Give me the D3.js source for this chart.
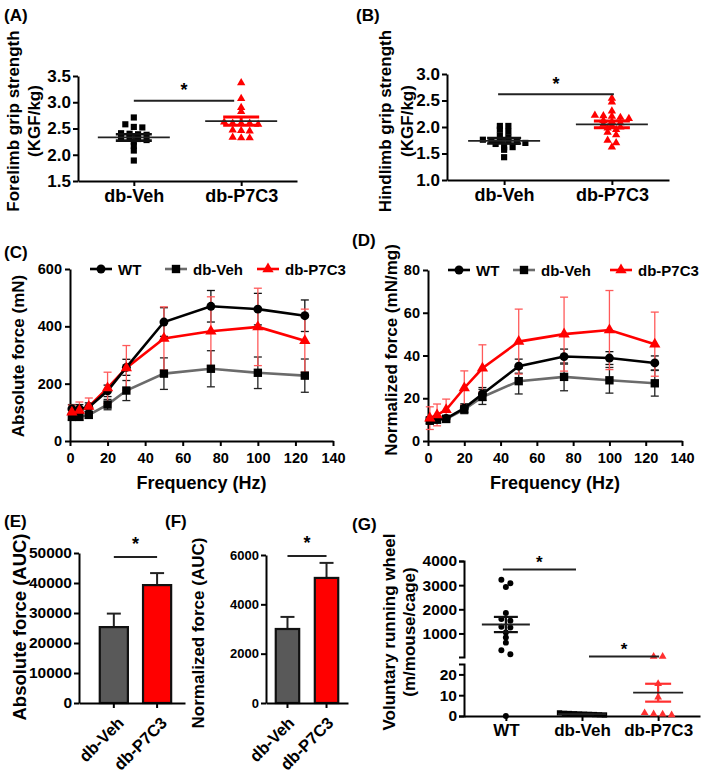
<!DOCTYPE html>
<html><head><meta charset="utf-8">
<script src="https://cdn.jsdelivr.net/npm/d3@7"></script>
<style>
body{margin:0;background:#fff}
</style></head><body>
<svg id="c" width="709" height="772" xmlns="http://www.w3.org/2000/svg"></svg>
<script>
// ---------------- DATA ----------------
const groupsAB = ["db-Veh", "db-P7C3"];
const foreVeh = [2.71,2.58,2.53,2.52,2.41,2.40,2.39,2.38,2.34,2.33,2.30,2.28,2.25,2.17,2.08,1.89];
const foreP7C3 = [3.37,3.07,2.90,2.82,2.62,2.60,2.60,2.60,2.58,2.47,2.46,2.45,2.33,2.32,2.32];
const foreMean = [2.33, 2.64];
const foreSEM = [0.06, 0.08];
const foreSig = 3.03;
const foreTicks = [1.5, 2.0, 2.5, 3.0, 3.5];

const hindVeh = [2.02,2.02,1.95,1.91,1.84,1.80,1.76,1.74,1.74,1.73,1.72,1.70,1.68,1.62,1.62,1.57,1.43];
const hindP7C3 = [2.54,2.47,2.30,2.22,2.21,2.20,2.18,2.16,2.12,2.10,2.08,2.05,2.03,2.00,1.98,1.95,1.90,1.85,1.75,1.70,1.62];
const hindMean = [1.74, 2.05];
const hindSEM = [0.05, 0.065];
const hindSig = 2.62;
const hindTicks = [1.0, 1.5, 2.0, 2.5, 3.0];

const seriesNames = ["WT", "db-Veh", "db-P7C3"];
const freqs = [1, 5, 10, 20, 30, 50, 75, 100, 125];
const freqTicks = [0, 20, 40, 60, 80, 100, 120, 140];
const absWT = [112, 112, 118, 175, 257, 415, 470, 460, 437];
const absWTErr = [15, 15, 15, 20, 28, 50, 55, 55, 55];
const absVeh = [84, 84, 91, 127, 176, 235, 252, 238, 228];
const absVehErr = [12, 12, 12, 18, 35, 55, 63, 55, 58];
const absP7C3 = [100, 106, 120, 185, 255, 358, 383, 398, 350];
const absP7C3Err = [25, 30, 30, 55, 78, 110, 120, 135, 110];
const absTicks = [0, 200, 400, 600];

const normWT = [9.8, 10.2, 10.5, 15.4, 22, 35, 39.5, 38.8, 36.5];
const normWTErr = [1.5, 1.5, 1.5, 2, 3, 3.3, 3.5, 3, 3.3];
const normVeh = [9.5, 10, 10.3, 14.8, 20.6, 28, 30, 28.4, 27];
const normVehErr = [1.5, 1.5, 1.5, 2, 3.5, 6, 6.5, 6, 6];
const normP7C3 = [10.7, 12.2, 14.6, 24.8, 34, 46.5, 50, 51.9, 45.3];
const normP7C3Err = [5.3, 5.1, 5, 8, 11, 15.2, 17.3, 18.5, 15];
const normTicks = [0, 20, 40, 60, 80];

const aucGroups = ["db-Veh", "db-P7C3"];
const absAUC = [25300, 39300];
const absAUCErr = [4500, 4000];
const absAUCSig = 48700;
const absAUCTicks = [0, 10000, 20000, 30000, 40000, 50000];
const normAUC = [3000, 5070];
const normAUCErr = [490, 610];
const normAUCSig = 5960;
const normAUCTicks = [0, 2000, 4000, 6000];

const wheelGroups = ["WT", "db-Veh", "db-P7C3"];
const wheelWT = [3220, 3080, 2920, 1850, 1600, 1530, 1280, 1250, 1040, 830, 620, 300, 140, 0];
const wheelVeh = [1.2, 0.9, 0.6, 1.1, 1.5, 0.5, 0.8, 1.3, 0.7, 1.0];
const wheelP7C3 = [45, 45, 15.5, 9, 1.5, 1.0, 0.8, 0.5];
const wheelMean = [1370, 0.9, 11.2];
const wheelSEM = [315, 0.15, 4.3];
const wheelSig = [3650, 42];
const wheelUpperTicks = [1000, 2000, 3000, 4000];
const wheelLowerTicks = [0, 10, 20];

// ---------------- HELPERS ----------------
const FONT = '"Liberation Sans", Arial, Helvetica, sans-serif';
const svg = d3.select("#c");
const RED = "#ff0000";
const intFmt = d3.format("d");

function styleAxis(g, fs) {
  g.attr("font-size", fs).attr("font-family", FONT).attr("font-weight", "bold");
  g.selectAll(".domain").attr("stroke", "#000").attr("stroke-width", 2);
  g.selectAll(".tick line").attr("stroke", "#000").attr("stroke-width", 2);
  g.selectAll(".tick text").attr("fill", "#000");
  return g;
}
function label(x, y, str, fs, anchor = "middle", rot = 0) {
  return svg.append("text")
    .attr("transform", `translate(${x},${y}) rotate(${rot})`)
    .attr("text-anchor", anchor)
    .attr("font-family", FONT).attr("font-weight", "bold")
    .attr("font-size", fs).attr("fill", "#000").text(str);
}
function jitter(vals, ypx, tol, sp) {
  const idx = vals.map((v, i) => i).sort((a, b) => ypx(vals[a]) - ypx(vals[b]));
  const rows = [];
  idx.forEach(i => {
    const p = ypx(vals[i]);
    const r = rows[rows.length - 1];
    if (r && p - r.p0 <= tol) r.items.push(i); else rows.push({ p0: p, items: [i] });
  });
  const off = new Array(vals.length);
  rows.forEach(r => {
    const k = r.items.length;
    r.items.forEach((i, j) => off[i] = (j - (k - 1) / 2) * sp);
  });
  return off;
}
function dots(cx, ypx, vals, shape, size, color, tol, sp) {
  const off = jitter(vals, ypx, tol, sp);
  svg.append("g").selectAll("path").data(vals).join("path")
    .attr("transform", (d, i) => `translate(${cx + off[i]},${ypx(d)})`)
    .attr("d", d3.symbol(shape, size)())
    .attr("fill", color);
}
function meanSem(cx, ypx, mean, sem, mHalf, sHalf, semColor, semW) {
  const g = svg.append("g");
  g.append("line").attr("x1", cx).attr("x2", cx)
    .attr("y1", ypx(mean + sem)).attr("y2", ypx(mean - sem))
    .attr("stroke", semColor).attr("stroke-width", semW);
  [mean + sem, mean - sem].forEach(v => {
    g.append("line").attr("x1", cx - sHalf).attr("x2", cx + sHalf)
      .attr("y1", ypx(v)).attr("y2", ypx(v))
      .attr("stroke", semColor).attr("stroke-width", semW);
  });
  g.append("line").attr("x1", cx - mHalf).attr("x2", cx + mHalf)
    .attr("y1", ypx(mean)).attr("y2", ypx(mean))
    .attr("stroke", "#222").attr("stroke-width", 1.8);
}
function sigBar(x1, x2, yp, fs, gap) {
  svg.append("line").attr("x1", x1).attr("x2", x2).attr("y1", yp).attr("y2", yp)
    .attr("stroke", "#222").attr("stroke-width", 2);
  label((x1 + x2) / 2, yp - gap, "*", fs);
}

// ---------------- PANEL A ----------------
{
  const x = d3.scalePoint().domain(groupsAB).range([78, 297]).padding(0.52);
  const y = d3.scaleLinear().domain([1.5, 3.5]).range([181, 76]);
  styleAxis(svg.append("g").attr("transform", "translate(78,0)")
    .call(d3.axisLeft(y).tickValues(foreTicks).tickFormat(d3.format(".1f")).tickSize(5).tickPadding(2).tickSizeOuter(0)), 17);
  styleAxis(svg.append("g").attr("transform", "translate(0,181)")
    .call(d3.axisBottom(x).tickSize(5).tickPadding(3).tickSizeOuter(0)), 18);
  dots(x("db-Veh"), y, foreVeh, d3.symbolSquare, 38, "#000", 3.5, 8.5);
  dots(x("db-P7C3"), y, foreP7C3, d3.symbolTriangle, 30, RED, 3.5, 8.5);
  meanSem(x("db-Veh"), y, foreMean[0], foreSEM[0], 36, 18, "#111", 2.6);
  meanSem(x("db-P7C3"), y, foreMean[1], foreSEM[1], 36, 18, RED, 3);
  sigBar(x("db-Veh"), x("db-P7C3") - 7, y(foreSig), 18, 5);
  label(4, 21, "(A)", 17, "start");
  label(19, 121, "Forelimb grip strength", 17, "middle", -90);
  label(40, 121, "(KGF/kg)", 17, "middle", -90);
}
// ---------------- PANEL B ----------------
{
  const x = d3.scalePoint().domain(groupsAB).range([447, 669]).padding(0.53);
  const y = d3.scaleLinear().domain([1.0, 3.0]).range([180, 74]);
  styleAxis(svg.append("g").attr("transform", "translate(447,0)")
    .call(d3.axisLeft(y).tickValues(hindTicks).tickFormat(d3.format(".1f")).tickSize(5).tickPadding(2).tickSizeOuter(0)), 17);
  styleAxis(svg.append("g").attr("transform", "translate(0,180)")
    .call(d3.axisBottom(x).tickSize(5).tickPadding(3).tickSizeOuter(0)), 18);
  dots(x("db-Veh"), y, hindVeh, d3.symbolSquare, 38, "#000", 3.5, 8.5);
  dots(x("db-P7C3"), y, hindP7C3, d3.symbolTriangle, 30, RED, 3.5, 8.5);
  meanSem(x("db-Veh"), y, hindMean[0], hindSEM[0], 36, 17, "#111", 2.6);
  meanSem(x("db-P7C3"), y, hindMean[1], hindSEM[1], 36, 18, RED, 3);
  sigBar(x("db-Veh") - 6, x("db-P7C3") + 2, y(hindSig), 18, 4.5);
  label(356, 21, "(B)", 17, "start");
  label(391, 121, "Hindlimb grip strength", 17, "middle", -90);
  label(413, 121, "(KGF/kg)", 17, "middle", -90);
}
// ---------------- LINE PANELS ----------------
function linePanel(cfg) {
  const x = d3.scaleLinear().domain([0, 140]).range(cfg.xr);
  const y = d3.scaleLinear().domain(cfg.yd).range([441, cfg.yTop]);
  styleAxis(svg.append("g").attr("transform", `translate(${cfg.xr[0]},0)`)
    .call(d3.axisLeft(y).tickValues(cfg.yTicks).tickFormat(intFmt).tickSize(5).tickPadding(3).tickSizeOuter(0)), 14.5);
  styleAxis(svg.append("g").attr("transform", "translate(0,441)")
    .call(d3.axisBottom(x).tickValues(freqTicks).tickFormat(intFmt).tickSize(5).tickPadding(7).tickSizeOuter(0)), 14.5);
  const series = [
    { name: "WT", v: cfg.wt, e: cfg.wtE, line: "#000", mark: "#000", err: "#111", shape: d3.symbolCircle, size: 62 },
    { name: "db-Veh", v: cfg.veh, e: cfg.vehE, line: "#6b6b6b", mark: "#000", err: "#222", shape: d3.symbolSquare, size: 70 },
    { name: "db-P7C3", v: cfg.p7, e: cfg.p7E, line: RED, mark: RED, err: "#ff5a5a", shape: d3.symbolTriangle, size: 55 }
  ];
  const g = svg.append("g");
  series.forEach(s => {
    freqs.forEach((f, i) => {
      const cx = x(f), y1 = y(s.v[i] + s.e[i]), y2 = y(Math.max(0, s.v[i] - s.e[i]));
      g.append("line").attr("x1", cx).attr("x2", cx).attr("y1", y1).attr("y2", y2)
        .attr("stroke", s.err).attr("stroke-width", 1.3);
      [y1, y2].forEach(yy => g.append("line").attr("x1", cx - 4).attr("x2", cx + 4)
        .attr("y1", yy).attr("y2", yy).attr("stroke", s.err).attr("stroke-width", 1.3));
    });
  });
  const ln = d3.line().x((d, i) => x(freqs[i])).y(d => y(d));
  [series[2], series[1], series[0]].forEach(s => {
    g.append("path").attr("d", ln(s.v)).attr("fill", "none")
      .attr("stroke", s.line).attr("stroke-width", 2.6);
  });
  series.forEach(s => {
    g.selectAll(null).data(s.v).join("path")
      .attr("transform", (d, i) => `translate(${x(freqs[i])},${y(d)})`)
      .attr("d", d3.symbol(s.shape, s.size)()).attr("fill", s.mark);
  });
  series.forEach((s, i) => {
    const lx = cfg.legX[i], ly = cfg.yTop;
    svg.append("line").attr("x1", lx).attr("x2", lx + 22).attr("y1", ly).attr("y2", ly)
      .attr("stroke", s.line).attr("stroke-width", 2.6);
    svg.append("path").attr("transform", `translate(${lx + 11},${ly})`)
      .attr("d", d3.symbol(s.shape, s.size)()).attr("fill", s.mark);
    label(lx + 28, ly + 5.5, s.name, 15, "start");
  });
  label((cfg.xr[0] + cfg.xr[1]) / 2, 489, "Frequency (Hz)", 18);
}
linePanel({ xr: [70, 333], yd: [0, 600], yTop: 269, yTicks: absTicks,
  wt: absWT, wtE: absWTErr, veh: absVeh, vehE: absVehErr, p7: absP7C3, p7E: absP7C3Err,
  legX: [90, 165, 257] });
label(4, 258, "(C)", 17, "start");
label(24, 356, "Absolute force (mN)", 17, "middle", -90);

linePanel({ xr: [428, 682], yd: [0, 80], yTop: 270, yTicks: normTicks,
  wt: normWT, wtE: normWTErr, veh: normVeh, vehE: normVehErr, p7: normP7C3, p7E: normP7C3Err,
  legX: [448, 513, 610] });
label(352, 246, "(D)", 17, "start");
label(397, 350, "Normalized force (mN/mg)", 17, "middle", -90);

// ---------------- BAR PANELS ----------------
function barPanel(cfg) {
  const x = d3.scaleBand().domain(aucGroups).range(cfg.xr).paddingInner(cfg.pi).paddingOuter(cfg.po).align(cfg.al);
  const y = d3.scaleLinear().domain(cfg.yd).range([703, cfg.yTop]);
  const colors = ["#595959", RED];
  const g = svg.append("g");
  aucGroups.forEach((c, i) => {
    const cx = x(c) + x.bandwidth() / 2;
    g.append("line").attr("x1", cx).attr("x2", cx).attr("y1", y(cfg.v[i])).attr("y2", y(cfg.v[i] + cfg.e[i]))
      .attr("stroke", "#222").attr("stroke-width", 2);
    g.append("line").attr("x1", cx - 7).attr("x2", cx + 7).attr("y1", y(cfg.v[i] + cfg.e[i])).attr("y2", y(cfg.v[i] + cfg.e[i]))
      .attr("stroke", "#222").attr("stroke-width", 2);
  });
  g.selectAll("rect").data(cfg.v).join("rect")
    .attr("x", (d, i) => x(aucGroups[i])).attr("width", x.bandwidth())
    .attr("y", d => y(d)).attr("height", d => 703 - y(d))
    .attr("fill", (d, i) => colors[i]).attr("stroke", "#111").attr("stroke-width", 2.2);
  styleAxis(svg.append("g").attr("transform", `translate(${cfg.xr[0]},0)`)
    .call(d3.axisLeft(y).tickValues(cfg.ticks).tickFormat(intFmt).tickSize(5).tickPadding(2).tickSizeOuter(0)), cfg.fs);
  const ax = styleAxis(svg.append("g").attr("transform", "translate(0,703)")
    .call(d3.axisBottom(x).tickSize(5).tickSizeOuter(0)), 16.5);
  ax.selectAll(".tick text").attr("x", 0).attr("y", 0).attr("dy", null)
    .attr("text-anchor", "end").attr("transform", `translate(${cfg.lo[0]},${cfg.lo[1]}) rotate(-45)`);
  const c0 = x(aucGroups[0]) + x.bandwidth() / 2, c1 = x(aucGroups[1]) + x.bandwidth() / 2;
  sigBar(c0, c1, y(cfg.sig), 18, 7);
}
barPanel({ xr: [79, 185], pi: 0.35, po: 0.4, al: 0.6, yd: [0, 50000], yTop: 553, ticks: absAUCTicks, fs: 15.5,
  v: absAUC, e: absAUCErr, sig: absAUCSig, lo: [11, 21] });
label(4, 527, "(E)", 17, "start");
label(26, 627, "Absolute force (AUC)", 18.5, "middle", -90);

barPanel({ xr: [266, 348], pi: 0.4, po: 0.25, al: 0.5, yd: [0, 6000], yTop: 555, ticks: normAUCTicks, fs: 13,
  v: normAUC, e: normAUCErr, sig: normAUCSig, lo: [8, 21] });
label(165, 527, "(F)", 17, "start");
label(204, 633, "Normalized force (AUC)", 17, "middle", -90);

// ---------------- PANEL G ----------------
{
  const x = d3.scalePoint().domain(wheelGroups).range([464, 700]).padding(0.55);
  const yU = d3.scaleLinear().domain([25, 4000]).range([657, 561]);
  const yL = d3.scaleLinear().domain([0, 25]).range([716, 664]);
  const yp = v => v >= 25 ? yU(v) : yL(v);
  styleAxis(svg.append("g").attr("transform", "translate(464,0)")
    .call(d3.axisLeft(yU).tickValues(wheelUpperTicks).tickFormat(intFmt).tickSize(5).tickPadding(2).tickSizeOuter(5)), 15.5);
  styleAxis(svg.append("g").attr("transform", "translate(464,0)")
    .call(d3.axisLeft(yL).tickValues(wheelLowerTicks).tickFormat(intFmt).tickSize(5).tickPadding(2).tickSizeOuter(5)), 15.5);
  styleAxis(svg.append("g").attr("transform", "translate(0,716)")
    .call(d3.axisBottom(x).tickSize(5).tickPadding(3).tickSizeOuter(0)), 17);
  dots(x("WT"), yp, wheelWT, d3.symbolCircle, 28, "#000", 4.5, 9);
  dots(x("db-Veh"), yp, wheelVeh, d3.symbolSquare, 28, "#000", 4, 5);
  dots(x("db-P7C3"), yp, wheelP7C3, d3.symbolTriangle, 26, "#ff3030", 4, 9);
  meanSem(x("WT"), yp, wheelMean[0], wheelSEM[0], 24, 12, "#111", 2.2);
  meanSem(x("db-Veh"), yp, wheelMean[1], wheelSEM[1], 24, 12, "#111", 2);
  meanSem(x("db-P7C3"), yp, wheelMean[2], wheelSEM[2], 25, 13, "#ff3030", 2.2);
  sigBar(x("WT") - 3, x("db-Veh") - 6, yp(wheelSig[0]), 17, 1);
  sigBar(x("db-Veh") + 7, x("db-P7C3") + 1, yp(wheelSig[1]), 17, 1.5);
  label(352, 530, "(G)", 17, "start");
  label(395, 632, "Voluntary running wheel", 17, "middle", -90);
  label(415, 632, "(m/mouse/cage)", 17, "middle", -90);
}
</script>
</body></html>
